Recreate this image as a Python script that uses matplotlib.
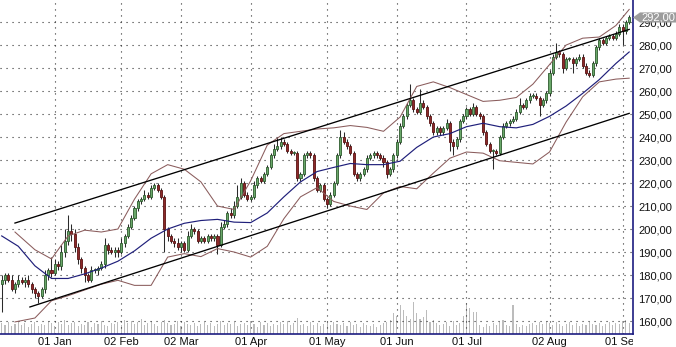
import matplotlib
matplotlib.use('Agg')
import matplotlib.pyplot as plt
import numpy as np
from matplotlib.patches import Polygon
from matplotlib.transforms import Bbox, blended_transform_factory

plt.rcParams['font.family'] = ['Liberation Sans', 'DejaVu Sans']
plt.rcParams['font.size'] = 8

# daily closes (open = previous close)
closes = [178, 180, 178, 174, 176, 178, 177, 178, 176, 174,
          172, 171, 174, 180, 182, 181, 185, 184, 190, 195,
          199, 198, 192, 187, 183, 180, 178, 182, 182, 183,
          185, 193, 191, 190, 191, 190, 194, 197, 201, 205,
          209, 212, 213, 215, 214, 218, 219, 217, 214, 200,
          197, 195, 194, 192, 194, 191, 197, 200, 199, 195,
          196, 195, 197, 196, 197, 193, 201, 202, 207, 206,
          210, 214, 220, 215, 213, 214, 219, 222, 221, 224,
          227, 232, 235, 236, 238, 237, 234, 233, 233, 222,
          224, 232, 233, 232, 222, 217, 219, 213, 211, 215,
          220, 232, 240, 238, 236, 233, 224, 222, 224, 226,
          231, 232, 233, 232, 231, 229, 224, 226, 232, 238,
          245, 249, 254, 256, 252, 251, 255, 253, 249, 246,
          242, 244, 242, 244, 246, 238, 236, 239, 247, 249,
          252, 250, 253, 250, 249, 242, 237, 234, 234, 233,
          240, 245, 246, 247, 248, 251, 254, 253, 256, 258,
          258, 257, 254, 256, 259, 268, 275, 277, 276, 270,
          274, 274, 272, 274, 275, 271, 268, 267, 272, 279,
          282, 281, 283, 284, 283, 285, 288, 286, 290, 292]
first_open = 176

# wick lengths above / below the body
wick_up = [2, 1, 1, 2, 1, 2, 1, 1, 2, 1,
           1, 1, 1, 2, 1, 6, 2, 1, 3, 5,
           7, 3, 2, 2, 1, 1, 1, 2, 1, 1,
           1, 3, 1, 1, 1, 1, 2, 1, 1, 1,
           1, 1, 1, 2, 1, 1, 1, 1, 1, 1,
           1, 1, 1, 2, 1, 1, 2, 2, 1, 1,
           1, 1, 1, 1, 1, 1, 2, 2, 1, 2,
           2, 5, 2, 1, 1, 1, 2, 1, 1, 1,
           1, 1, 2, 4, 2, 1, 1, 1, 1, 1,
           1, 1, 1, 1, 1, 1, 1, 1, 1, 1,
           1, 1, 3, 2, 1, 1, 1, 1, 1, 1,
           1, 1, 1, 1, 1, 1, 1, 1, 1, 1,
           1, 1, 1, 7, 1, 1, 6, 1, 1, 1,
           1, 1, 1, 1, 2, 1, 1, 1, 1, 1,
           1, 1, 2, 1, 1, 1, 1, 1, 1, 1,
           1, 1, 1, 1, 1, 1, 3, 1, 1, 1,
           1, 1, 1, 1, 1, 1, 1, 4, 1, 1,
           1, 1, 1, 1, 1, 1, 1, 1, 1, 1,
           1, 1, 1, 1, 1, 1, 1, 1, 1, 1]
wick_dn = [12, 2, 1, 1, 2, 1, 1, 2, 1, 2,
           2, 3, 1, 2, 2, 2, 1, 2, 2, 2,
           2, 3, 2, 2, 2, 3, 1, 1, 1, 2,
           1, 2, 2, 1, 2, 2, 1, 2, 1, 1,
           1, 1, 1, 1, 1, 1, 1, 1, 1, 10,
           2, 1, 2, 1, 2, 1, 1, 1, 1, 1,
           1, 1, 1, 1, 1, 4, 1, 1, 1, 1,
           1, 1, 1, 1, 1, 1, 1, 1, 1, 1,
           1, 1, 1, 1, 1, 1, 1, 1, 1, 1,
           1, 1, 1, 1, 1, 1, 1, 1, 2, 1,
           1, 1, 1, 1, 1, 1, 1, 1, 1, 1,
           1, 1, 1, 1, 1, 2, 2, 1, 1, 1,
           1, 1, 1, 1, 1, 1, 1, 1, 1, 1,
           1, 1, 1, 1, 1, 4, 4, 1, 1, 1,
           1, 1, 1, 1, 1, 1, 1, 1, 8, 1,
           1, 1, 1, 1, 1, 1, 1, 1, 1, 1,
           1, 1, 5, 1, 1, 1, 1, 1, 1, 2,
           1, 1, 4, 1, 1, 1, 1, 1, 1, 1,
           1, 1, 1, 1, 1, 1, 1, 6, 1, 1]

volume = [11, 9, 12, 8, 10, 13, 9, 11, 7, 10,
          12, 8, 10, 9, 13, 11, 8, 12, 10, 14,
          9, 11, 12, 8, 10, 9, 12, 7, 11, 10,
          13, 9, 8, 11, 10, 12, 9, 14, 11, 13,
          10, 12, 15, 9, 11, 13, 10, 8, 12, 14,
          11, 9, 10, 13, 8, 12, 10, 9, 11, 8,
          10, 12, 9, 11, 8, 10, 13, 9, 11, 10,
          12, 8, 10, 11, 9, 13, 10, 7, 12, 9,
          11, 8, 10, 9, 12, 10, 13, 9, 11, 16,
          9, 10, 8, 12, 9, 11, 8, 10, 13, 9,
          12, 10, 9, 11, 8, 12, 9, 10, 7, 11,
          9, 8, 10, 7, 9, 11, 12, 14, 21, 18,
          29, 24, 18, 15, 32, 21, 15, 17, 24, 12,
          14, 11, 9, 10, 12, 8, 13, 9, 11, 18,
          31, 26, 22, 22, 9, 7, 10, 8, 11, 9,
          12, 14, 9, 8, 29, 10, 7, 9, 8, 10,
          11, 9, 12, 10, 13, 11, 9, 12, 10, 8,
          10, 12, 9, 11, 8, 10, 9, 12, 10, 9,
          11, 8, 10, 12, 9, 11, 10, 13, 14, 11]

# moving average (blue) and bollinger bands (brown), read at sample bars
ma_idx = [0, 5, 10, 15, 20, 25, 30, 35, 40, 45, 50, 55, 60, 65, 70, 75, 80, 85, 90,
          95, 100, 105, 110, 115, 120, 125, 130, 135, 140, 145, 150, 155, 160, 165,
          170, 175, 180, 185, 189]
ma = [197, 192.5, 184, 178.5, 178.5, 180.5, 183, 186, 190.5, 196, 200, 202.5, 203.7,
      204.2, 203, 202.8, 207, 214, 220.5, 225, 226.8, 228.5, 228, 228, 229.5, 235.5,
      240, 241.5, 244.5, 246, 244.5, 244, 245.5, 249, 253.5, 259, 265, 272, 277]
band_idx = [4] + ma_idx[2:]
upper = [198.7, 191, 187, 197, 199.5, 198.7, 200, 213, 224, 228, 226, 220.5, 210,
         208.5, 221, 236.5, 241.5, 242.5, 243.5, 244, 245, 244.2, 242.5, 248.7, 262,
         264, 261.5, 258.5, 255.5, 256, 257.2, 263, 271.5, 280, 283, 283.5, 288.5, 295.5]
lower = [159.6, 161.3, 168.8, 171, 173.5, 176, 177.7, 175.5, 175.5, 187.8, 189.3, 188,
         191.5, 190, 187.8, 192.5, 204.5, 214, 218, 212, 210, 208.5, 215.7, 218.5,
         217.5, 224.3, 230.8, 233.5, 233, 229.7, 229, 228.3, 233.5, 246.5, 257.5, 264,
         265.2, 265.6]

# trend channel lines (bar, price)
chan_top = [(4, 202.6), (189, 286.8)]
chan_bot = [(8.5, 166.1), (189, 250.3)]

tick_pos = [16, 36, 54, 75, 98, 119, 140, 165, 187]
tick_lab = ['01 Jan', '02 Feb', '02 Mar', '01 Apr', '01 May', '01 Jun', '01 Jul',
            '02 Aug', '01 Sep']
price_ticks = list(range(160, 300, 10))

W, H = 676, 347
fig = plt.figure(figsize=(W / 100, H / 100), dpi=100, facecolor='white')
rect = [0, 13 / H, 633 / W, 334 / H]
xlim = (-0.51, 190.15)

n = len(closes)
x = np.arange(n)
c = np.array(closes, dtype=float)
o = np.array([first_open] + closes[:-1], dtype=float)
hi = np.maximum(o, c) + np.array(wick_up)
lo = np.minimum(o, c) - np.array(wick_dn)

# volume panel underneath
axv = fig.add_axes(rect)
axv.set_axis_off()
axv.set_xlim(*xlim)
axv.set_ylim(0, 334)
axv.bar(x, volume, width=0.32, color='#bcbcbc', linewidth=0)

ax = fig.add_axes(rect)
ax.patch.set_alpha(0)
ax.set_xlim(*xlim)
ax.set_ylim(154.35, 299.6)

ax.grid(True, color='#303030', linestyle=(0, (1, 4.4)), linewidth=0.8)
ax.set_axisbelow(True)

ax.vlines(x, lo, hi, color='#2a2a2a', linewidth=0.75, zorder=2)
up = c >= o
body = np.maximum(np.abs(c - o), 0.4)
ax.bar(x[up], body[up], bottom=np.minimum(o, c)[up], width=0.62,
       color='#6aa86a', edgecolor='#2d5a2d', linewidth=0.6, zorder=3)
ax.bar(x[~up], body[~up], bottom=np.minimum(o, c)[~up], width=0.62,
       color='#8c2a2a', edgecolor='#5a1212', linewidth=0.6, zorder=3)

ax.plot(band_idx, upper, color='#8a5c5c', linewidth=0.75, zorder=4)
ax.plot(band_idx, lower, color='#8a5c5c', linewidth=0.75, zorder=4)
ax.plot(ma_idx, ma, color='#1f1f7a', linewidth=0.85, zorder=4)
for line in (chan_top, chan_bot):
    ax.plot([p[0] for p in line], [p[1] for p in line], color='black',
            linewidth=0.95, zorder=5)

for s in ('top', 'left'):
    ax.spines[s].set_visible(False)
for s in ('right', 'bottom'):
    ax.spines[s].set_color('#1c1c80')
    ax.spines[s].set_linewidth(1.2)

ax.yaxis.tick_right()
ax.set_yticks(price_ticks)
ax.set_yticklabels([f'{v:.2f}'.replace('.', ',') for v in price_ticks])
ax.set_xticks(tick_pos)
ax.set_xticklabels(tick_lab)
ax.tick_params(axis='both', length=0, labelsize=8, colors='#111111')
ax.tick_params(axis='y', pad=4)
ax.tick_params(axis='x', pad=2)
clip = Bbox.from_extents(0, 0, 633, H)
for lbl in ax.get_xticklabels():
    lbl.set_clip_on(True)
    lbl.set_clip_box(clip)

# last price marker
last = closes[-1]
tr = blended_transform_factory(ax.transAxes, ax.transData)
px = 1 / 633
hh = 2.2
ax.add_patch(Polygon([(1, last), (1 + 7 * px, last + hh), (1 + 44 * px, last + hh),
                      (1 + 44 * px, last - hh), (1 + 7 * px, last - hh)],
                     closed=True, transform=tr, clip_on=False,
                     facecolor='#9c9c9c', edgecolor='none', zorder=6))
ax.text(1 + 25 * px, last, f'{last:.2f}'.replace('.', ','), transform=tr,
        ha='center', va='center', color='white', fontsize=8, zorder=7, clip_on=False)

fig.savefig('out.png', dpi=100, facecolor='white')
